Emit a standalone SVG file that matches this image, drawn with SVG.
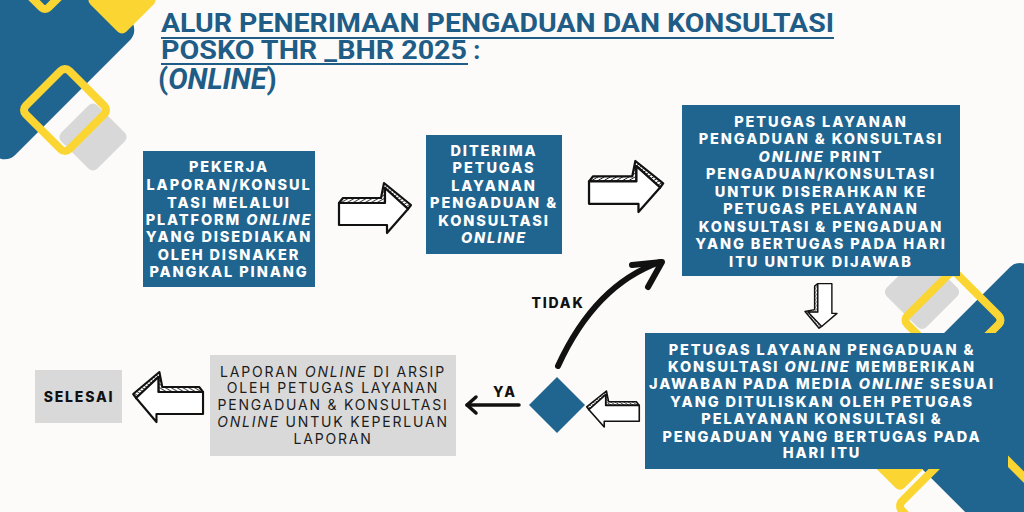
<svg xmlns="http://www.w3.org/2000/svg" xmlns:xlink="http://www.w3.org/1999/xlink" width="1024" height="512" viewBox="0 0 1024 512">
<style>
.bg{fill:#fcfbf9}
.blue{fill:#1f6590}
.yfill{fill:#fbd633}
.yline{fill:none;stroke:#fbd633;stroke-width:8}
.grey{fill:#d8d8d8}
.box{fill:#1f6590}
.gbox{fill:#d9d9d9}
.title{font-family:Roboto,"Liberation Sans",sans-serif;font-weight:700;fill:#1f5d87}
.bt{font-family:Inter,"Open Sans",sans-serif;font-weight:800;font-size:14.5px;fill:#ffffff;text-anchor:middle;letter-spacing:1.9px}
.gt{font-family:Inter,"Open Sans",sans-serif;font-weight:400;font-size:14px;fill:#1c1c1c;text-anchor:middle;letter-spacing:1.8px}
.lbl{font-family:Inter,"Open Sans",sans-serif;font-weight:800;font-size:14px;fill:#111;text-anchor:middle;letter-spacing:1.8px}
.it{font-style:italic}
.hand{stroke:#111;stroke-width:2.2;stroke-linejoin:round}
.conn{fill:none;stroke:#111;stroke-linecap:round;stroke-linejoin:round}
</style>
<defs>
<pattern id="hatch" patternUnits="userSpaceOnUse" width="3" height="3" patternTransform="rotate(60)">
<rect width="3" height="3" fill="#fff"/>
<line x1="0" y1="0" x2="0" y2="3" stroke="#111" stroke-width="1.6"/>
</pattern>
<g id="harrow">
<path class="hand" fill="url(#hatch)" d="M1,20 L5,15 L43,15 L46,0 L73,22 L70,26 L47,5 L47,20 Z"/>
<path class="hand" fill="#fff" d="M1,20 L47,20 L47,5 L70,26 L49,50 L49,42 L1,42 Z"/>
</g>
</defs>
<rect class="bg" x="0" y="0" width="1024" height="512"/>

<g id="decor-top-left">
<rect class="blue" x="-90.5" y="-65.5" width="191" height="191" rx="14" transform="rotate(45 5 30)"/>
<rect class="yfill" x="96.5" y="-25.5" width="51" height="51" rx="6" transform="rotate(45 122 0)"/>
<rect class="yline" x="28" y="-30" width="34" height="34" rx="5" transform="rotate(45 45 -13)"/>
<rect class="grey" x="67.5" y="111.5" width="51" height="51" rx="6" transform="rotate(45 93 137)"/>
<rect class="yline" x="34.25" y="79.25" width="61.5" height="61.5" rx="6" transform="rotate(45 65 110)"/>
</g>

<g id="decor-bottom-right">
<rect class="blue" x="910.5" y="302.5" width="219" height="219" rx="14" transform="rotate(45 1020 412)"/>
<rect class="grey" x="894" y="264" width="56" height="56" rx="6" transform="rotate(45 922 292)"/>
<rect class="yline" x="917.65" y="284.65" width="70.7" height="70.7" rx="6" transform="rotate(45 953 320)"/>
<rect class="yfill" x="863" y="403" width="74" height="74" rx="6" transform="rotate(45 900 440)"/>
<rect class="yline" x="920" y="451" width="110" height="110" rx="7" transform="rotate(45 975 506)"/>
</g>

<g id="title">
<text class="title" x="161" y="32" font-size="25" textLength="673" lengthAdjust="spacingAndGlyphs">ALUR PENERIMAAN PENGADUAN DAN KONSULTASI</text>
<line x1="161" y1="38" x2="834" y2="38" stroke="#1f5d87" stroke-width="2"/>
<text class="title" x="161" y="59" font-size="25"><tspan textLength="306" lengthAdjust="spacingAndGlyphs">POSKO THR _BHR 2025</tspan> :</text>
<line x1="161" y1="64" x2="468" y2="64" stroke="#1f5d87" stroke-width="2"/>
<text class="title" x="158" y="89" font-size="29">(<tspan class="it">ONLINE</tspan>)</text>
</g>

<g id="connectors">
<use href="#harrow" transform="translate(338,183)"/>
<use href="#harrow" transform="translate(588,161) scale(1.03,1.02)"/>
<use href="#harrow" transform="translate(805,283) rotate(90) scale(0.62,-0.64)"/>
<use href="#harrow" transform="translate(640,391) scale(-0.73,0.72)"/>
<use href="#harrow" transform="translate(204,372) scale(-0.97,1)"/>
<path class="conn" stroke-width="6" d="M558,366 Q595,285 660,262"/>
<path class="conn" stroke-width="6" d="M632,265 L662,262 L648,287"/>
<path class="conn" stroke-width="3.5" d="M519,405 L467,405"/>
<path class="conn" stroke-width="3.5" d="M476,397 L467,405 L476,413"/>
<text class="lbl" x="558" y="308">TIDAK</text>
<text class="lbl" x="505" y="397">YA</text>
</g>

<g id="node-pekerja">
<rect class="box" x="143" y="151" width="172" height="136"/>
<text class="bt" x="229" y="172">PEKERJA</text>
<text class="bt" x="229" y="190">LAPORAN/KONSUL</text>
<text class="bt" x="229" y="208">TASI MELALUI</text>
<text class="bt" x="229" y="225">PLATFORM <tspan class="it">ONLINE</tspan></text>
<text class="bt" x="229" y="242">YANG DISEDIAKAN</text>
<text class="bt" x="229" y="260">OLEH DISNAKER</text>
<text class="bt" x="229" y="277">PANGKAL PINANG</text>
</g>

<g id="node-diterima">
<rect class="box" x="426" y="135" width="136" height="119"/>
<text class="bt" x="494" y="156">DITERIMA</text>
<text class="bt" x="494" y="173">PETUGAS</text>
<text class="bt" x="494" y="191">LAYANAN</text>
<text class="bt" x="494" y="208">PENGADUAN &amp;</text>
<text class="bt" x="494" y="226">KONSULTASI</text>
<text class="bt it" x="494" y="243">ONLINE</text>
</g>

<g id="node-print">
<rect class="box" x="682" y="105" width="278" height="171"/>
<text class="bt" x="821" y="127">PETUGAS LAYANAN</text>
<text class="bt" x="821" y="144">PENGADUAN &amp; KONSULTASI</text>
<text class="bt" x="821" y="162"><tspan class="it">ONLINE</tspan> PRINT</text>
<text class="bt" x="821" y="179">PENGADUAN/KONSULTASI</text>
<text class="bt" x="821" y="197">UNTUK DISERAHKAN KE</text>
<text class="bt" x="821" y="214">PETUGAS PELAYANAN</text>
<text class="bt" x="821" y="232">KONSULTASI &amp; PENGADUAN</text>
<text class="bt" x="821" y="249">YANG BERTUGAS PADA HARI</text>
<text class="bt" x="821" y="267">ITU UNTUK DIJAWAB</text>
</g>

<g id="node-jawaban">
<rect class="box" x="645" y="333" width="363" height="136"/>
<text class="bt" x="822" y="355">PETUGAS LAYANAN PENGADUAN &amp;</text>
<text class="bt" x="822" y="372">KONSULTASI <tspan class="it">ONLINE</tspan> MEMBERIKAN</text>
<text class="bt" x="822" y="389">JAWABAN PADA MEDIA <tspan class="it">ONLINE</tspan> SESUAI</text>
<text class="bt" x="822" y="407">YANG DITULISKAN OLEH PETUGAS</text>
<text class="bt" x="822" y="424">PELAYANAN KONSULTASI &amp;</text>
<text class="bt" x="822" y="442">PENGADUAN YANG BERTUGAS PADA</text>
<text class="bt" x="822" y="458">HARI ITU</text>
</g>

<g id="node-decision">
<polygon class="box" points="557,377 585,405 557,433 529,405"/>
</g>

<g id="node-arsip">
<rect class="gbox" x="210" y="355" width="246" height="101"/>
<text class="gt" x="333" y="377">LAPORAN <tspan class="it">ONLINE</tspan> DI ARSIP</text>
<text class="gt" x="333" y="393">OLEH PETUGAS LAYANAN</text>
<text class="gt" x="333" y="410">PENGADUAN &amp; KONSULTASI</text>
<text class="gt" x="333" y="427"><tspan class="it">ONLINE</tspan> UNTUK KEPERLUAN</text>
<text class="gt" x="333" y="444">LAPORAN</text>
</g>

<g id="node-selesai">
<rect class="gbox" x="35" y="370" width="87" height="53"/>
<text class="lbl" x="79" y="402">SELESAI</text>
</g>
</svg>
